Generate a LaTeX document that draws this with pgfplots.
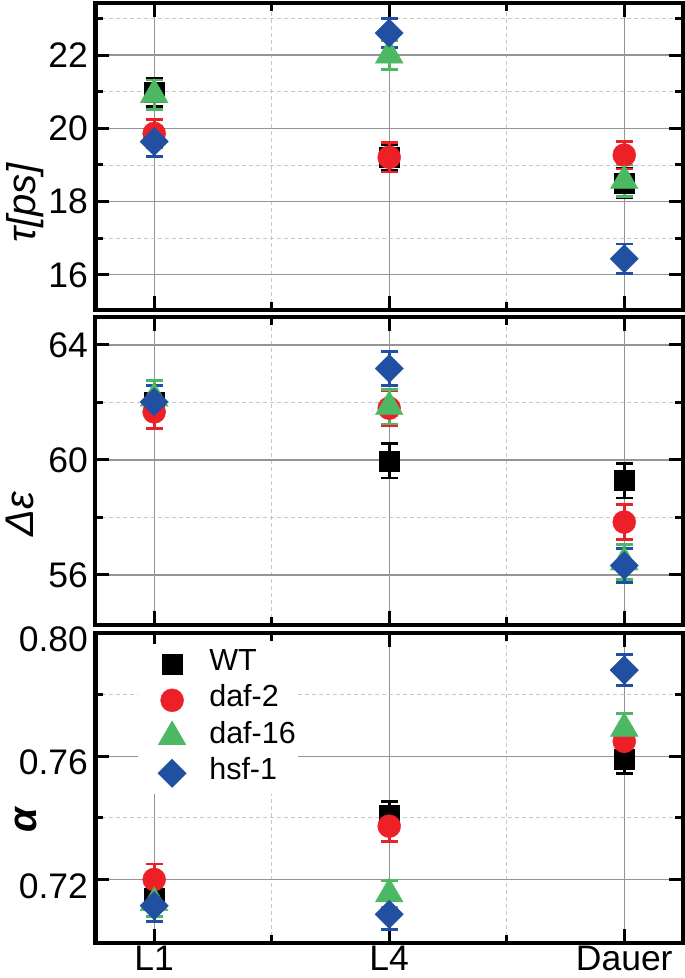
\documentclass[border=0pt]{standalone}
\usepackage{fontspec}
\setmainfont{Liberation Sans}
\usepackage{pgfplots}
\pgfplotsset{compat=1.18}
\usepackage{pgfplotstable}

\definecolor{cred}{RGB}{237,32,39}
\definecolor{cgreen}{RGB}{77,184,99}
\definecolor{cblue}{RGB}{33,80,162}

% tau [ps]
\pgfplotstableread{
x y e
1 20.98 0.39
2 19.20 0.35
3 18.50 0.40
}\tauWT
\pgfplotstableread{
x y e
1 19.86 0.38
2 19.21 0.40
3 19.27 0.38
}\tauDa
\pgfplotstableread{
x y e
1 20.92 0.40
2 22.00 0.40
3 18.57 0.43
}\tauDb
\pgfplotstableread{
x y e
1 19.64 0.40
2 22.60 0.40
3 16.44 0.40
}\tauH

% Delta epsilon
\pgfplotstableread{
x y e
1 62.00 0.57
2 59.97 0.60
3 59.28 0.60
}\epsWT
\pgfplotstableread{
x y e
1 61.67 0.57
2 61.80 0.60
3 57.84 0.60
}\epsDa
\pgfplotstableread{
x y e
1 62.15 0.62
2 61.85 0.60
3 56.45 0.60
}\epsDb
\pgfplotstableread{
x y e
1 62.02 0.57
2 63.18 0.60
3 56.33 0.60
}\epsH

% alpha
\pgfplotstableread{
x y e
1 0.7140 0.0040
2 0.7408 0.0045
3 0.7590 0.0045
}\alWT
\pgfplotstableread{
x y e
1 0.7200 0.0050
2 0.7373 0.0050
3 0.7648 0.0045
}\alDa
\pgfplotstableread{
x y e
1 0.7125 0.0045
2 0.7153 0.0045
3 0.7690 0.0048
}\alDb
\pgfplotstableread{
x y e
1 0.7115 0.0050
2 0.7087 0.0049
3 0.7879 0.0050
}\alH

\pgfplotsset{
  panel/.style={
    scale only axis, width=587.6pt,
    xmin=0.75, xmax=3.25,
    xtick={1,2,3}, minor xtick={1.5,2.5},
    tick pos=both, tick align=inside,
    grid=both,
    major grid style={line width=1.2pt, color=black!42},
    minor grid style={line width=0.9pt, color=black!22, dash pattern=on 4pt off 3pt},
    axis line style={line width=4.2pt},
    major tick length=14pt, minor tick length=8pt,
    every major tick/.append style={line width=3pt, black},
    every minor tick/.append style={line width=3pt, black},
    tick label style={font=\fontsize{35.5}{35.5}\selectfont},
    yticklabel style={xshift=-4pt},
    /pgf/number format/assume math mode=true,
    ylabel style={font=\fontsize{40}{40}\selectfont, anchor=center},
  },
  wt/.style={black, only marks, mark=square*, mark size=10pt},
  da/.style={cred, only marks, mark=*, mark size=11.5pt},
  db/.style={cgreen, only marks, mark=triangle*, mark size=16pt},
  hs/.style={cblue, only marks, mark=square*, mark size=10pt, mark options={rotate=45}},
  eb/.style={error bars/.cd, y dir=both, y explicit,
    error bar style={line width=2.8pt, solid},
    error mark options={rotate=90, mark size=8.5pt, line width=2.8pt}},
}

\begin{document}
\begin{tikzpicture}
\useasboundingbox (0,0) rectangle (685pt,-978pt);

% panel 1: tau
\begin{axis}[panel,
  at={(95.4pt,-2.7pt)}, anchor=north west, height=307.3pt,
  ymin=15.04, ymax=23.43,
  ytick={16,18,20,22}, minor ytick={17,19,21,23},
  xticklabels={},
  ylabel={\textit{τ[ps]}},
  ylabel style={at={(axis description cs:-0.12,0.35)}},
]
\addplot[wt, eb] table[x=x, y=y, y error=e] {\tauWT};
\addplot[da, eb] table[x=x, y=y, y error=e] {\tauDa};
\addplot[db, eb] table[x=x, y=y, y error=e] {\tauDb};
\addplot[hs, eb] table[x=x, y=y, y error=e] {\tauH};
\end{axis}

% panel 2: Delta epsilon
\begin{axis}[panel,
  at={(95.4pt,-317.3pt)}, anchor=north west, height=307.7pt,
  ymin=54.26, ymax=64.96,
  ytick={56,60,64}, minor ytick={58,62},
  xticklabels={},
  ylabel={\textit{Δε}},
  ylabel style={at={(axis description cs:-0.128,0.36)}},
]
\addplot[wt, eb] table[x=x, y=y, y error=e] {\epsWT};
\addplot[da, eb] table[x=x, y=y, y error=e] {\epsDa};
\addplot[db, eb] table[x=x, y=y, y error=e] {\epsDb};
\addplot[hs, eb] table[x=x, y=y, y error=e] {\epsH};
\end{axis}

% panel 3: alpha
\begin{axis}[panel,
  at={(95.4pt,-632.8pt)}, anchor=north west, height=309.9pt,
  ymin=0.6995, ymax=0.80,
  ytick={0.72,0.76,0.80}, minor ytick={0.74,0.78},
  yticklabel style={yshift=-6.5pt, /pgf/number format/fixed, /pgf/number format/fixed zerofill, /pgf/number format/precision=2},
  xticklabels={L1,L4,Dauer},
  ylabel={\textbf{\textit{α}}},
  ylabel style={at={(axis description cs:-0.118,0.399)}},
  legend style={at={(axis description cs:0.072,0.966)}, anchor=north west,
    draw=none, fill=white,
    inner xsep=0pt, inner ysep=2pt,
    nodes={font=\fontsize{30.5}{30.5}\selectfont, inner sep=2pt, text height=22.5pt, text depth=10pt},
    row sep=0pt},
  legend cell align=left,
  legend image code/.code={\path (0pt,0pt) (69pt,0pt);\draw[mark repeat=2,mark phase=2,#1] plot coordinates {(0pt,0pt) (34pt,0pt) (69pt,0pt)};},
]
\addplot[wt, eb] table[x=x, y=y, y error=e] {\alWT};
\addplot[da, eb] table[x=x, y=y, y error=e] {\alDa};
\addplot[db, eb] table[x=x, y=y, y error=e] {\alDb};
\addplot[hs, eb] table[x=x, y=y, y error=e] {\alH};
\legend{WT, daf-2, daf-16, hsf-1}
\end{axis}
\end{tikzpicture}
\end{document}
